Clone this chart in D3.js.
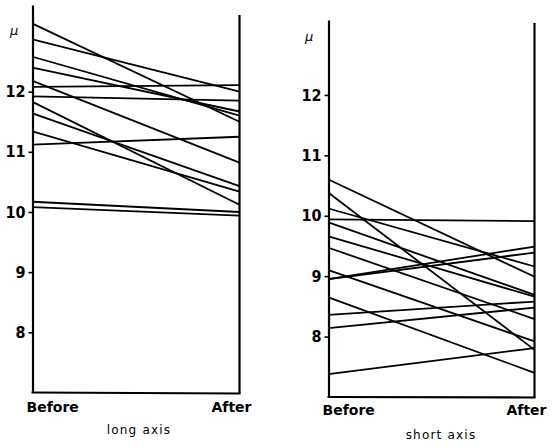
<!DOCTYPE html>
<html>
<head>
<meta charset="utf-8">
<script src="https://cdn.jsdelivr.net/npm/d3@7"></script>
<style>
  html, body { margin: 0; padding: 0; background: #fff; }
  svg { display: block; }
  .tick text { font-family: "Liberation Sans Narrow", "DejaVu Sans Condensed", "Liberation Sans", sans-serif; font-weight: bold; font-size: 16px; fill: #000; }
  .cat { font-family: "DejaVu Sans", sans-serif; font-weight: bold; font-size: 14px; fill: #000; }
  .ttl { font-family: "DejaVu Sans", sans-serif; font-size: 12px; letter-spacing: 1.2px; fill: #000; }
  .mu { font-family: "DejaVu Sans", sans-serif; font-style: italic; font-size: 13px; fill: #000; }
</style>
</head>
<body>
<script>
// ---- data ----
const categories = ["Before", "After"];
const tickValues = [8, 9, 10, 11, 12];
const panelTitles = ["long axis", "short axis"];

// long axis (μ)
const longBefore = [13.13, 12.87, 12.58, 12.40, 12.18, 12.08, 11.92, 11.83, 11.64, 11.34, 11.12, 10.17, 10.08];
const longAfter  = [11.50, 12.00, 11.60, 11.67, 10.82, 12.11, 11.85, 10.12, 10.43, 10.34, 11.25, 10.00, 9.94];

// short axis (μ)
const shortBefore = [10.60, 10.38, 10.12, 9.94, 9.89, 9.66, 9.47, 9.10, 8.95, 8.95, 8.65, 8.36, 8.14, 7.38];
const shortAfter  = [8.99, 7.78, 9.16, 9.91, 8.69, 8.66, 8.29, 7.92, 9.49, 9.39, 7.40, 8.58, 8.48, 7.81];

const W = 555, H = 448;
const svg = d3.select("body").append("svg").attr("width", W).attr("height", H);

const panels = [
  { before: longBefore, after: longAfter, title: panelTitles[0],
    x0: 32.5, x1: 239.5, yTop: 5, yBot: 392.5, vTop: 13.44, rightTop: 15,
    bottomR: 393.5, catY: 411.5, titleY: 434, titleX: 139, muX: 10, muY: 35 },
  { before: shortBefore, after: shortAfter, title: panelTitles[1],
    x0: 328.5, x1: 534.5, yTop: 20, yBot: 397, vTop: 13.24, rightTop: 23,
    bottomR: 397.5, catY: 415, titleY: 439, titleX: 441, muX: 305, muY: 41 }
];

panels.forEach(p => {
  const g = svg.append("g");
  const x = d3.scalePoint().domain(categories).range([p.x0, p.x1]);
  const y = d3.scaleLinear().domain([7, p.vTop]).range([p.yBot, p.yTop]);

  // series lines
  const pairs = p.before.map((b, i) => [b, p.after[i]]);
  const line = d3.line().x((d, i) => x(categories[i])).y(d => y(d));
  g.selectAll("path.series").data(pairs).join("path")
    .attr("class", "series")
    .attr("d", line)
    .attr("fill", "none")
    .attr("stroke", "#000")
    .attr("stroke-width", 1.8);

  // left axis
  const ax = g.append("g").attr("transform", `translate(${p.x0},0)`)
    .call(d3.axisLeft(y).tickValues(tickValues).tickFormat(d3.format("d"))
      .tickSize(4).tickSizeOuter(0).tickPadding(3));
  ax.select(".domain").attr("stroke", "#000").attr("stroke-width", 2.2);
  ax.selectAll(".tick line").attr("stroke", "#000").attr("stroke-width", 1.6);

  // right axis line
  g.append("line")
    .attr("x1", p.x1).attr("x2", p.x1)
    .attr("y1", p.rightTop).attr("y2", p.bottomR)
    .attr("stroke", "#000").attr("stroke-width", 2.2);
  // bottom line
  g.append("line")
    .attr("x1", p.x0 - 1).attr("x2", p.x1 + 1)
    .attr("y1", p.yBot).attr("y2", p.bottomR)
    .attr("stroke", "#000").attr("stroke-width", 2.2);

  // μ
  g.append("text").attr("class", "mu").attr("x", p.muX).attr("y", p.muY).text("μ");

  // category labels
  g.append("text").attr("class", "cat").attr("x", p.x0 - 6).attr("y", p.catY)
    .attr("text-anchor", "start").text(categories[0]);
  g.append("text").attr("class", "cat").attr("x", p.x1 + 12).attr("y", p.catY)
    .attr("text-anchor", "end").text(categories[1]);

  // title
  g.append("text").attr("class", "ttl").attr("x", p.titleX).attr("y", p.titleY)
    .attr("text-anchor", "middle").text(p.title);
});
</script>
</body>
</html>
